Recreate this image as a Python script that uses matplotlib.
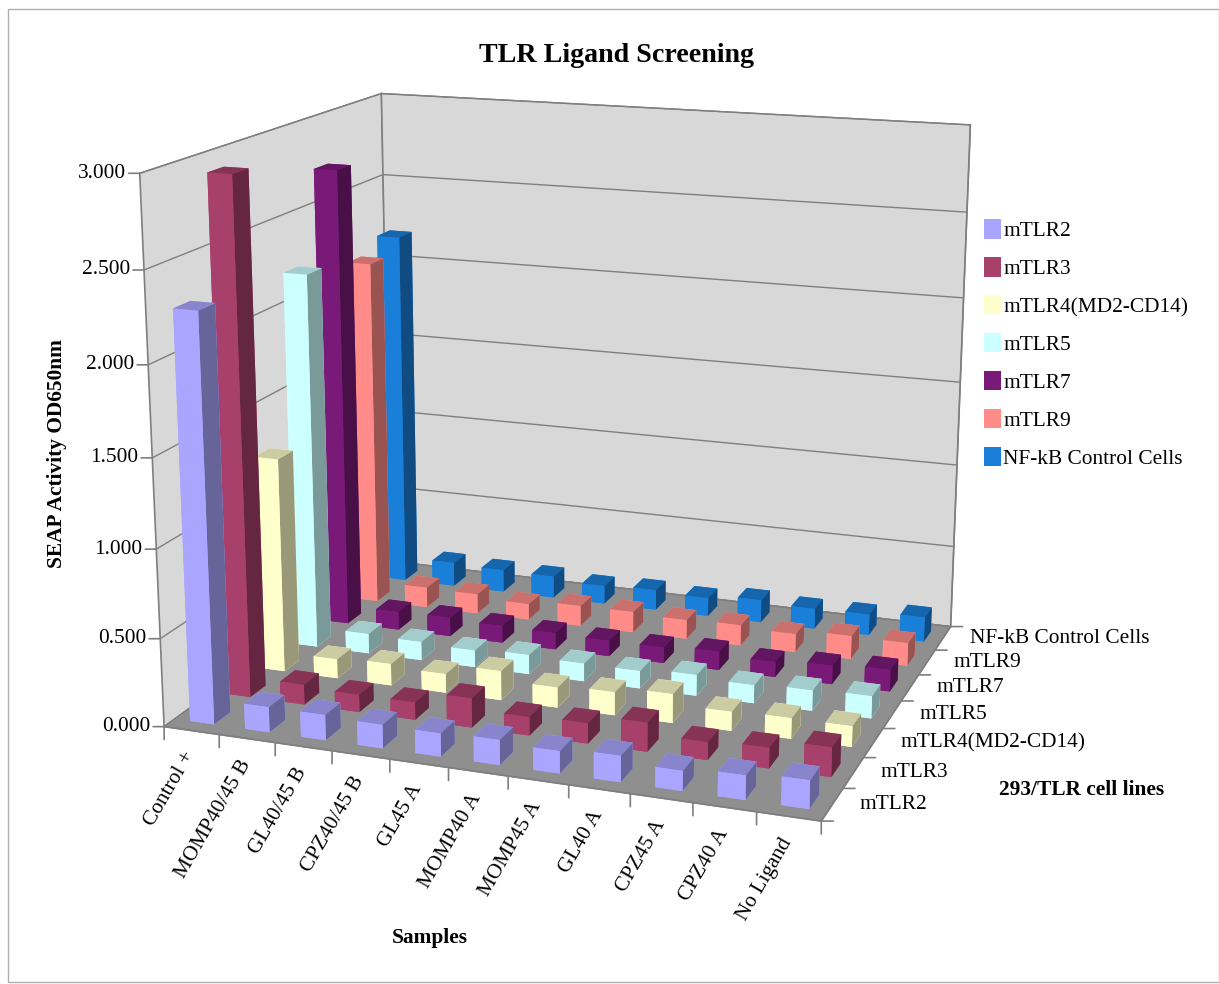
import matplotlib
matplotlib.use("Agg")
import matplotlib.pyplot as plt
from matplotlib.colors import to_rgb
from matplotlib.patches import Patch, Rectangle
from mpl_toolkits.mplot3d import proj3d

samples = ["Control +", "MOMP40/45 B", "GL40/45 B", "CPZ40/45 B", "GL45 A", "MOMP40 A",
           "MOMP45 A", "GL40 A", "CPZ45 A", "CPZ40 A", "No Ligand"]
lines = ["mTLR2", "mTLR3", "mTLR4(MD2-CD14)", "mTLR5", "mTLR7", "mTLR9", "NF-kB Control Cells"]
colors = ["#aaa6ff", "#a8406c", "#ffffcc", "#ccffff", "#7a1a78", "#ff8c88", "#1a7fd8"]
zticks = [0, 0.5, 1, 1.5, 2, 2.5, 3]
ztick_labels = ["0.000", "0.500", "1.000", "1.500", "2.000", "2.500", "3.000"]

mtlr2 = [2.28, 0.143, 0.143, 0.133, 0.130, 0.139, 0.124, 0.144, 0.110, 0.133, 0.154]
mtlr3 = [2.92, 0.115, 0.100, 0.100, 0.167, 0.105, 0.115, 0.163, 0.100, 0.115, 0.163]
mtlr4 = [1.25, 0.113, 0.127, 0.110, 0.170, 0.117, 0.133, 0.166, 0.109, 0.117, 0.117]
mtlr5 = [2.21, 0.118, 0.110, 0.100, 0.114, 0.105, 0.103, 0.122, 0.105, 0.118, 0.128]
mtlr7 = [2.73, 0.110, 0.114, 0.104, 0.100, 0.094, 0.094, 0.110, 0.090, 0.110, 0.127]
mtlr9 = [2.10, 0.124, 0.120, 0.097, 0.124, 0.126, 0.116, 0.124, 0.110, 0.139, 0.137]
nfkb = [2.18, 0.148, 0.138, 0.134, 0.112, 0.123, 0.112, 0.138, 0.123, 0.127, 0.149]
series = [mtlr2, mtlr3, mtlr4, mtlr5, mtlr7, mtlr9, nfkb]

plt.rcParams["font.family"] = "Liberation Serif"
FS = 15.4
EDGE = "#7f7f7f"
PX = 0.72  # points per pixel at dpi 100

fig = plt.figure(figsize=(12.19, 9.84), dpi=100)
fig.add_artist(Rectangle((0.0066, 0.002), 0.9934, 0.989, transform=fig.transFigure,
                         fill=False, ec="#b0b0b0", lw=1))
ax = fig.add_axes([-0.036, 0.113, 1.0, 0.9], projection="3d", computed_zorder=False)
ax.set_proj_type("persp", focal_length=0.55)
ax.view_init(elev=15.2, azim=-70.1)
ax.set_box_aspect((1.15, 0.95, 0.95), zoom=1.112)

nx, ny = len(samples), len(lines)
ax.set_xlim(0, nx)
ax.set_ylim(0, ny)
ax.set_zlim(0, 3)
ax.xaxis.set_pane_color("#d8d8d8")
ax.yaxis.set_pane_color("#d8d8d8")
ax.zaxis.set_pane_color("#8f8f8f")
for axis in (ax.xaxis, ax.yaxis, ax.zaxis):
    axis.pane.set_edgecolor(EDGE)
    axis.line.set_color((0, 0, 0, 0))
    axis._axinfo["grid"].update(color=EDGE, linewidth=1)
ax.set_xticks([])
ax.set_yticks([])
ax.set_zticks(zticks)
ax.set_zticklabels([])
ax.zaxis._axinfo["tick"].update(inward_factor=0, outward_factor=0)


def shade(c, k):
    return tuple(v * k for v in to_rgb(c))


def edge(xs, ys, zs):
    ax.plot(xs, ys, zs, color=EDGE, lw=1.2, zorder=5)


def at(x, y, z):
    px, py, _ = proj3d.proj_transform(x, y, z, ax.get_proj())
    return px, py


def tick(x, y, z, dx, dy):
    # tick of fixed screen length, dx and dy in pixels
    ax.annotate("", xy=at(x, y, z), xytext=(dx * PX, dy * PX), textcoords="offset points",
                arrowprops=dict(arrowstyle="-", color=EDGE, lw=1.2, shrinkA=0, shrinkB=0))


def label(x, y, z, s, dx, dy, **kw):
    ax.annotate(s, xy=at(x, y, z), xytext=(dx * PX, dy * PX), textcoords="offset points",
                fontsize=FS, **kw)


# outline of the walls; ticks are drawn by hand since the z axis has to sit on the left
edge([0, 0], [0, 0], [0, 3])
edge([0, 0], [ny, ny], [0, 3])
edge([nx, nx], [ny, ny], [0, 3])
edge([0, nx], [0, 0], [0, 0])
edge([nx, nx], [0, ny], [0, 0])
for z, s in zip(zticks, ztick_labels):
    tick(0, 0, z, -11, 0)
    label(0, 0, z, s, -14, 0, ha="right", va="center")
for i in range(nx + 1):
    tick(i, 0, 0, 0, -13)
for j in range(ny + 1):
    tick(nx, j, 0, 12, 0)

# back to front so the bars overlap properly
zo = 10
for j in range(ny - 1, -1, -1):
    for i in range(nx):
        c = colors[j]
        # faces: bottom, top, front, back, left, right
        fc = [c, shade(c, 0.8), c, c, c, shade(c, 0.6)]
        ax.bar3d(i + 0.28, j + 0.28, 0, 0.44, 0.44, series[j][i], color=fc, shade=False, zorder=zo)
        zo += 1

for i, s in enumerate(samples):
    label(i + 0.5, 0, 0, s, -9, -18, rotation=60, ha="right", va="top", rotation_mode="anchor")
for j, s in enumerate(lines):
    label(nx, j + 0.5, 0, s, 27, 0, ha="left", va="center")

fig.text(0.506, 0.944, "TLR Ligand Screening", ha="center", va="center", fontsize=20.2, fontweight="bold")
fig.text(0.047, 0.5386, "SEAP Activity OD650nm", rotation=90, ha="center", va="center",
         fontsize=FS, fontweight="bold")
fig.text(0.353, 0.047, "Samples", ha="center", va="center", fontsize=FS, fontweight="bold")
fig.text(0.887, 0.197, "293/TLR cell lines", ha="center", va="center", fontsize=FS, fontweight="bold")

handles = [Patch(facecolor=c, label=l) for c, l in zip(colors, lines)]
fig.legend(handles=handles, loc="upper left", bbox_to_anchor=(0.8074, 0.777), frameon=False,
           fontsize=FS, handlelength=0.8, handleheight=1, handletextpad=0.1, labelspacing=0.75,
           borderpad=0, borderaxespad=0)

fig.savefig("out.png", dpi=100)
